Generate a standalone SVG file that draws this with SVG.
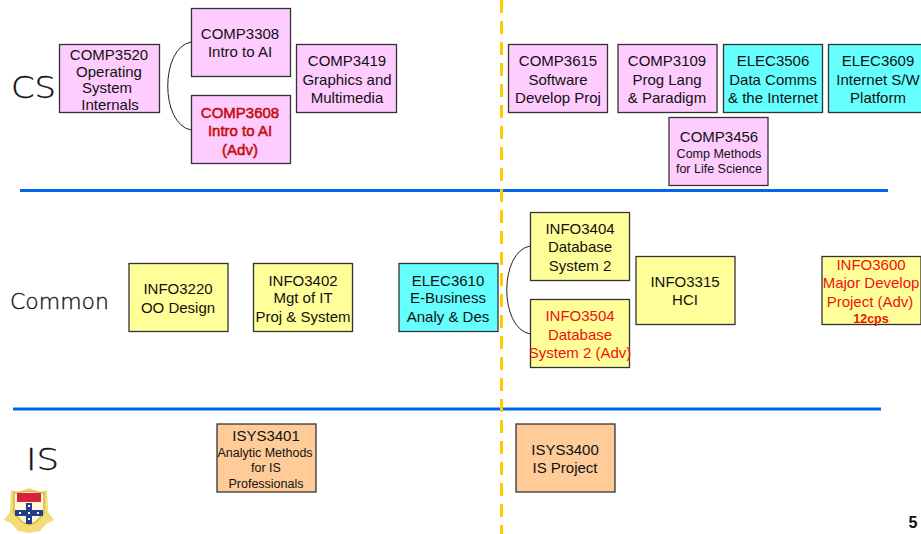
<svg xmlns="http://www.w3.org/2000/svg" width="921" height="534" viewBox="0 0 921 534">
<defs><filter id="soft" x="-10%" y="-10%" width="120%" height="120%"><feGaussianBlur stdDeviation="0.6"/></filter></defs>
<style>
text{font-family:"Liberation Sans",Arial,sans-serif;font-size:15px;fill:#111;text-anchor:middle}
.box{stroke:#333;stroke-width:1.3}
.p{fill:#ffccff}.c{fill:#66ffff}.y{fill:#ffff99}.o{fill:#ffcc99}
text.r{fill:#f01010}
text.b{stroke:#a00;stroke-width:.5}
text.s{font-size:12.500px}
text.cps{font-size:12.500px;font-weight:bold}
text.h{font-family:"DejaVu Sans",sans-serif;font-weight:200;text-anchor:start;fill:#111;stroke:#111;stroke-width:.35}
text.big{font-size:30px}
text.mid{font-size:21px}
text.page{font-size:16px;font-weight:bold}
.rule{stroke:#0066ee;stroke-width:3;fill:none}
.link{stroke:#222;stroke-width:1;fill:none}
</style>
<rect width="921" height="534" fill="#fff"/>
<g id="rules">
<line class="rule" x1="20" y1="190.500" x2="888" y2="190.500"/>
<line class="rule" x1="13" y1="409" x2="881" y2="409"/>
<line x1="501.500" y1="0" x2="501.500" y2="534" stroke="#ffcc00" stroke-width="3" stroke-dasharray="13 8"/>
</g>
<g id="connectors">
<path class="link" d="M191 42C160 48 160 124 191 130"/>
<path class="link" d="M530 246C499 252 499 328 530 334"/>
</g>
<g id="labels">
<text class="h big" x="11" y="98" textLength="45" lengthAdjust="spacingAndGlyphs">CS</text>
<text class="h mid" x="10" y="309" textLength="99" lengthAdjust="spacingAndGlyphs">Common</text>
<text class="h big" x="26" y="470" textLength="33" lengthAdjust="spacingAndGlyphs">IS</text>
</g>
<g id="COMP3520"><rect class="box p" x="59.500" y="44.500" width="100" height="68"/><text x="109" y="60">COMP3520</text><text x="109" y="77">Operating</text><text x="107" y="93">System</text><text x="110" y="110">Internals</text></g>
<g id="COMP3308"><rect class="box p" x="191.500" y="8.500" width="99" height="68"/><text x="240" y="39">COMP3308</text><text x="240" y="57">Intro to AI</text></g>
<g id="COMP3608"><rect class="box p" x="191.500" y="95.500" width="99" height="68"/><text class="r b" x="240" y="118">COMP3608</text><text class="r b" x="240" y="136">Intro to AI</text><text class="r b" x="240" y="155">(Adv)</text></g>
<g id="COMP3419"><rect class="box p" x="296.500" y="44.500" width="100" height="68"/><text x="347" y="66">COMP3419</text><text x="347" y="85">Graphics and</text><text x="347" y="103">Multimedia</text></g>
<g id="COMP3615"><rect class="box p" x="508.500" y="44.500" width="99" height="68"/><text x="558" y="66">COMP3615</text><text x="558" y="85">Software</text><text x="558" y="103">Develop Proj</text></g>
<g id="COMP3109"><rect class="box p" x="618" y="44.500" width="99" height="68"/><text x="667" y="66">COMP3109</text><text x="667" y="85">Prog Lang</text><text x="667" y="103">&amp; Paradigm</text></g>
<g id="ELEC3506"><rect class="box c" x="723.500" y="44.500" width="99" height="68"/><text x="773" y="66">ELEC3506</text><text x="773" y="85">Data Comms</text><text x="773" y="103">&amp; the Internet</text></g>
<g id="ELEC3609"><rect class="box c" x="828.500" y="44.500" width="99" height="68"/><text x="878" y="66">ELEC3609</text><text x="878" y="85">Internet S/W</text><text x="878" y="103">Platform</text></g>
<g id="COMP3456"><rect class="box p" x="669" y="117.500" width="99" height="68"/><text x="719" y="142">COMP3456</text><text class="s" x="719" y="158">Comp Methods</text><text class="s" x="719" y="173">for Life Science</text></g>
<g id="INFO3220"><rect class="box y" x="129" y="263.500" width="99" height="68"/><text x="178" y="294">INFO3220</text><text x="178" y="313">OO Design</text></g>
<g id="INFO3402"><rect class="box y" x="253.500" y="263.500" width="99" height="68"/><text x="303" y="286">INFO3402</text><text x="303" y="303">Mgt of IT</text><text x="303" y="322">Proj &amp; System</text></g>
<g id="ELEC3610"><rect class="box c" x="399" y="263.500" width="99" height="68"/><text x="448" y="286">ELEC3610</text><text x="448" y="303">E-Business</text><text x="448" y="322">Analy &amp; Des</text></g>
<g id="INFO3404"><rect class="box y" x="530.500" y="212.500" width="99" height="68"/><text x="580" y="234">INFO3404</text><text x="580" y="252">Database</text><text x="580" y="271">System 2</text></g>
<g id="INFO3504"><rect class="box y" x="530.500" y="299.500" width="99" height="68"/><text class="r" x="580" y="321">INFO3504</text><text class="r" x="580" y="340">Database</text><text class="r" x="580" y="358">System 2 (Adv)</text></g>
<g id="INFO3315"><rect class="box y" x="636" y="256.500" width="99" height="68"/><text x="685" y="287">INFO3315</text><text x="685" y="305">HCI</text></g>
<g id="INFO3600"><rect class="box y" x="822" y="256.500" width="99" height="68"/><text class="r" x="871" y="270">INFO3600</text><text class="r" x="871" y="288">Major Develop</text><text class="r" x="870" y="307">Project (Adv)</text><text class="r cps" x="871" y="323">12cps</text></g>
<g id="ISYS3401"><rect class="box o" x="217" y="424" width="99" height="68"/><text x="266" y="441">ISYS3401</text><text class="s" x="265" y="457">Analytic Methods</text><text class="s" x="266" y="472">for IS</text><text class="s" x="266" y="488">Professionals</text></g>
<g id="ISYS3400"><rect class="box o" x="516" y="424" width="99" height="68"/><text x="565" y="455">ISYS3400</text><text x="565" y="473">IS Project</text></g>
<g id="crest" filter="url(#soft)">
<path d="M11 490L18 492L29 488L40 492L47 490L48 512L54 520L46 524L40 531L29 533L18 531L12 524L4 520L10 512Z" fill="#f2dc78"/>
<path d="M14 493L29 491L44 493L44 513L36 522L29 525L22 522L14 513Z" fill="#fff8e0" stroke="#d8b840" stroke-width="1.500"/>
<rect x="17" y="493" width="24" height="9" fill="#d8203a"/>
<rect x="15" y="510" width="28" height="6" fill="#283c8c"/>
<rect x="26" y="503" width="6" height="21" fill="#283c8c"/>
<rect x="28" y="505" width="2" height="2" fill="#fff"/><rect x="28" y="512" width="2" height="2" fill="#fff"/><rect x="28" y="518" width="2" height="2" fill="#fff"/>
<rect x="19" y="512" width="2" height="2" fill="#fff"/><rect x="37" y="512" width="2" height="2" fill="#fff"/>
</g>
<text class="page" x="913" y="528">5</text>
</svg>
